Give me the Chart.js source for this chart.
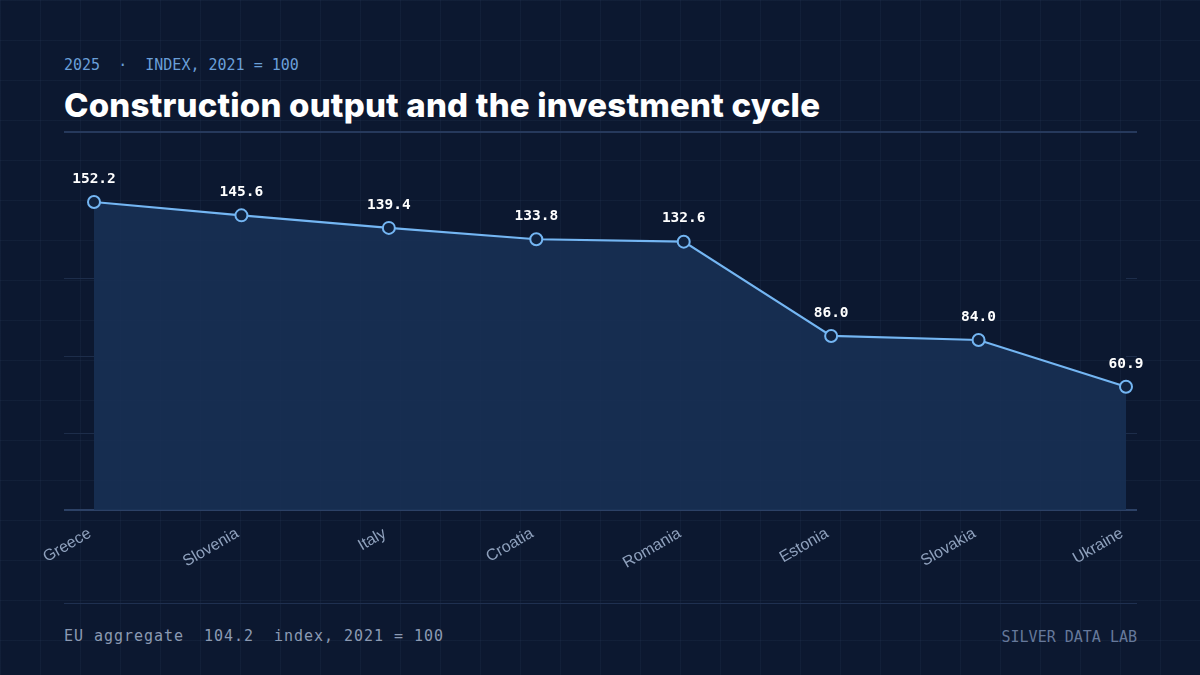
<!DOCTYPE html>
<html>
<head>
<meta charset="utf-8">
<script src="https://cdn.jsdelivr.net/npm/chart.js@4.4.1/dist/chart.umd.min.js"></script>
<style>
  html, body { margin: 0; padding: 0; }
  body {
    width: 1200px; height: 675px; overflow: hidden; position: relative;
    background-color: #0c1830;
    background-image:
      linear-gradient(to right, rgba(120,150,200,0.06) 1px, transparent 1px),
      linear-gradient(to bottom, rgba(120,150,200,0.06) 1px, transparent 1px);
    background-size: 40px 40px;
  }
  .t { position: absolute; white-space: pre; line-height: 1; }
  #sub { left: 64px; top: 56px; font: 15px "DejaVu Sans Mono", monospace; color: #6a9fd8; }
  #title { left: 64px; top: 85px; font: 800 33px Inter, "Noto Sans", sans-serif; color: #ffffff; letter-spacing: 0.2px; }
  #rule1 { position: absolute; left: 64px; top: 131px; width: 1073px; height: 2px; background: #26395c; }
  #rule2 { position: absolute; left: 64px; top: 603px; width: 1073px; height: 1px; background: #1f3050; }
  #foot { left: 64px; top: 627px; font: 15px "DejaVu Sans Mono", monospace; color: #8b9ab3; letter-spacing: 0.97px; }
  #brand { right: 63px; top: 628px; font: 15px "DejaVu Sans Mono", monospace; color: #66789a; }
  #wrap { position: absolute; left: 0px; top: 140px; width: 1200px; height: 440px; }
</style>
</head>
<body>
<div class="t" id="sub">2025  ·  INDEX, 2021 = 100</div>
<div class="t" id="title">Construction output and the investment cycle</div>
<div id="rule1"></div>
<div id="wrap"><canvas id="c"></canvas></div>
<div id="rule2"></div>
<div class="t" id="foot">EU aggregate  104.2  index, 2021 = 100</div>
<div class="t" id="brand">SILVER DATA LAB</div>
<script>
const categories = ["Greece", "Slovenia", "Italy", "Croatia", "Romania", "Estonia", "Slovakia", "Ukraine"];
const values = [152.2, 145.6, 139.4, 133.8, 132.6, 86.0, 84.0, 60.9];
const yTicks = [0, 38.05, 76.1, 114.15];
const yMax = 152.2;

const labelPlugin = {
  id: 'valueLabels',
  afterDatasetsDraw(chart) {
    const ctx = chart.ctx;
    const meta = chart.getDatasetMeta(0);
    ctx.save();
    ctx.font = 'bold 14.5px "DejaVu Sans Mono", monospace';
    ctx.fillStyle = '#ffffff';
    ctx.textAlign = 'center';
    ctx.textBaseline = 'middle';
    meta.data.forEach((pt, i) => {
      ctx.fillText(values[i].toFixed(1), pt.x, pt.y - 23);
    });
    ctx.restore();
  }
};

const tickColor = (ctx) => (ctx.tick && ctx.tick.value === 0) ? '#2c4166' : '#1d2d4a';
const tickWidth = (ctx) => (ctx.tick && ctx.tick.value === 0) ? 2 : 1;

new Chart(document.getElementById('c'), {
  type: 'line',
  data: {
    labels: categories,
    datasets: [{
      data: values,
      borderColor: '#74b6f3',
      borderWidth: 2.2,
      backgroundColor: 'rgba(24,48,84,0.88)',
      fill: 'origin',
      tension: 0,
      clip: false,
      pointRadius: 6,
      pointHoverRadius: 6,
      pointBorderWidth: 2,
      pointBorderColor: '#74b6f3',
      pointBackgroundColor: '#10223f'
    }]
  },
  options: {
    responsive: true,
    maintainAspectRatio: false,
    animation: false,
    events: [],
    layout: { padding: { top: 62, left: 64, right: 63, bottom: 0 } },
    plugins: { legend: { display: false }, tooltip: { enabled: false } },
    scales: {
      x: {
        grid: { display: false },
        border: { display: true, color: '#2c4166', width: 2 },
        afterFit: (s) => { s.height = 70; s.paddingLeft = 0; s.paddingRight = 0; },
        ticks: {
          autoSkip: false, minRotation: 30, maxRotation: 30, padding: 6, labelOffset: -4,
          color: '#8fa1bd', font: { family: '"Liberation Sans", Arial, sans-serif', size: 16 }
        }
      },
      y: {
        min: 0, max: yMax,
        afterBuildTicks: (s) => { s.ticks = yTicks.map(v => ({ value: v })); },
        border: { display: false },
        grid: { drawOnChartArea: false, drawTicks: true, tickLength: 30, color: tickColor, lineWidth: tickWidth },
        ticks: { display: false }
      },
      y2: {
        position: 'right',
        min: 0, max: yMax,
        afterBuildTicks: (s) => { s.ticks = yTicks.map(v => ({ value: v })); },
        border: { display: false },
        grid: { drawOnChartArea: false, drawTicks: true, tickLength: 11, color: tickColor, lineWidth: tickWidth },
        ticks: { display: false }
      }
    }
  },
  plugins: [labelPlugin]
});
</script>
</body>
</html>
